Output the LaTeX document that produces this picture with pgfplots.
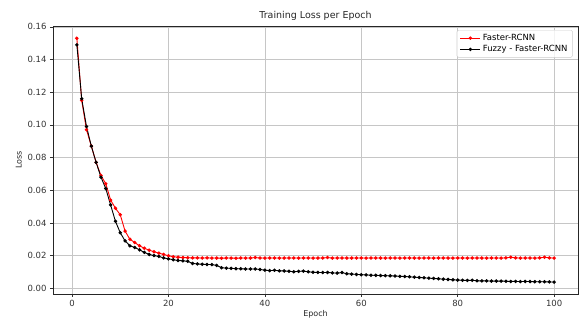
\documentclass[border=0pt]{standalone}
\usepackage{pgfplots}
\pgfplotsset{compat=1.18}
\usepackage{fontspec}
\setmainfont{DejaVu Sans}

% Training loss per epoch for the two detectors
\pgfplotstableread{
epoch loss
1 0.153
2 0.115
3 0.097
4 0.087
5 0.077
6 0.069
7 0.064
8 0.054
9 0.049
10 0.045
11 0.035
12 0.030
13 0.028
14 0.026
15 0.0245
16 0.0233
17 0.0224
18 0.0215
19 0.0207
20 0.0199
21 0.0193
22 0.0190
23 0.0188
24 0.0187
25 0.0186
26 0.0186
27 0.0185
28 0.0186
29 0.0185
30 0.0185
31 0.0184
32 0.0185
33 0.0185
34 0.0184
35 0.0185
36 0.0185
37 0.0185
38 0.0188
39 0.0185
40 0.0185
41 0.0185
42 0.0185
43 0.0185
44 0.0185
45 0.0185
46 0.0185
47 0.0185
48 0.0185
49 0.0185
50 0.0185
51 0.0185
52 0.0185
53 0.0188
54 0.0185
55 0.0185
56 0.0185
57 0.0185
58 0.0185
59 0.0185
60 0.0185
61 0.0185
62 0.0185
63 0.0185
64 0.0185
65 0.0185
66 0.0185
67 0.0185
68 0.0185
69 0.0185
70 0.0185
71 0.0185
72 0.0185
73 0.0185
74 0.0185
75 0.0185
76 0.0185
77 0.0185
78 0.0185
79 0.0185
80 0.0185
81 0.0185
82 0.0185
83 0.0185
84 0.0185
85 0.0185
86 0.0185
87 0.0185
88 0.0185
89 0.0185
90 0.0186
91 0.0190
92 0.0186
93 0.0185
94 0.0185
95 0.0185
96 0.0185
97 0.0186
98 0.0190
99 0.0186
100 0.0185
}\fasterrcnn

\pgfplotstableread{
epoch loss
1 0.149
2 0.116
3 0.099
4 0.087
5 0.077
6 0.068
7 0.061
8 0.051
9 0.041
10 0.034
11 0.029
12 0.026
13 0.025
14 0.0235
15 0.0220
16 0.0207
17 0.0200
18 0.0195
19 0.0186
20 0.0180
21 0.0175
22 0.0170
23 0.0168
24 0.0165
25 0.0152
26 0.0149
27 0.0147
28 0.0146
29 0.0145
30 0.0140
31 0.0126
32 0.0123
33 0.0122
34 0.0120
35 0.0119
36 0.0118
37 0.0118
38 0.0118
39 0.0115
40 0.0111
41 0.0108
42 0.0110
43 0.0107
44 0.0106
45 0.0104
46 0.0101
47 0.0104
48 0.0105
49 0.0101
50 0.0098
51 0.0097
52 0.0096
53 0.0097
54 0.0094
55 0.0093
56 0.0096
57 0.0089
58 0.0087
59 0.0085
60 0.0083
61 0.0082
62 0.0080
63 0.0079
64 0.0078
65 0.0077
66 0.0076
67 0.0075
68 0.0073
69 0.0072
70 0.0070
71 0.0068
72 0.0066
73 0.0064
74 0.0062
75 0.0060
76 0.0058
77 0.0056
78 0.0054
79 0.0052
80 0.0050
81 0.0049
82 0.0048
83 0.0049
84 0.0046
85 0.0045
86 0.0045
87 0.0044
88 0.0044
89 0.0044
90 0.0043
91 0.0042
92 0.0042
93 0.0041
94 0.0042
95 0.0041
96 0.0040
97 0.0040
98 0.0040
99 0.0039
100 0.0038
}\fuzzyrcnn

\begin{document}
\begin{tikzpicture}
\path[use as bounding box] (-53pt,-26pt) rectangle (527pt,294pt);
\begin{axis}[
  at={(0,0)}, anchor=south west,
  scale only axis,
  width=525pt, height=268pt,
  xmin=-3.95, xmax=104.95,
  ymin=-0.0035, ymax=0.1605,
  xtick={0,20,40,60,80,100},
  ytick={0,0.02,0.04,0.06,0.08,0.10,0.12,0.14,0.16},
  yticklabel style={/pgf/number format/.cd,fixed,fixed zerofill,precision=2},
  scaled y ticks=false,
  /pgf/number format/assume math mode=true,
  ticklabel style={font=\fontsize{8.5}{10}\selectfont, text=black!80},
  tick align=outside,
  tick style={black!80, line width=0.6pt},
  major tick length=3pt,
  xtick pos=bottom, ytick pos=left,
  grid=major,
  grid style={gray!45, line width=0.6pt},
  axis line style={black!85, line width=0.7pt},
  title={Training Loss per Epoch},
  title style={font=\fontsize{9.5}{11}\selectfont, text=black!85, yshift=-4pt},
  xlabel={Epoch},
  ylabel={Loss},
  label style={font=\fontsize{8}{9.5}\selectfont, text=black!85},
  xlabel style={yshift=3pt},
  ylabel style={yshift=-1pt},
  legend style={font=\fontsize{8.5}{10}\selectfont, draw=black!20, rounded corners=1.5pt,
    fill=white, fill opacity=0.8, text opacity=1, row sep=-0.5pt,
    at={(0.99,0.985)}, anchor=north east},
  legend cell align=left,
  legend image code/.code={
    \draw[#1, line width=1pt] (0cm,0cm) -- (0.7cm,0cm);
    \fill[#1] (0.35cm,0cm) circle (1.2pt);
  },
]
\addplot[red, line width=0.9pt, mark=*, mark size=1.25pt] table[x=epoch, y=loss] {\fasterrcnn};
\addlegendentry{Faster-RCNN}
\addplot[black, line width=0.9pt, mark=*, mark size=1.25pt] table[x=epoch, y=loss] {\fuzzyrcnn};
\addlegendentry{Fuzzy - Faster-RCNN}
\end{axis}
\end{tikzpicture}
\end{document}
